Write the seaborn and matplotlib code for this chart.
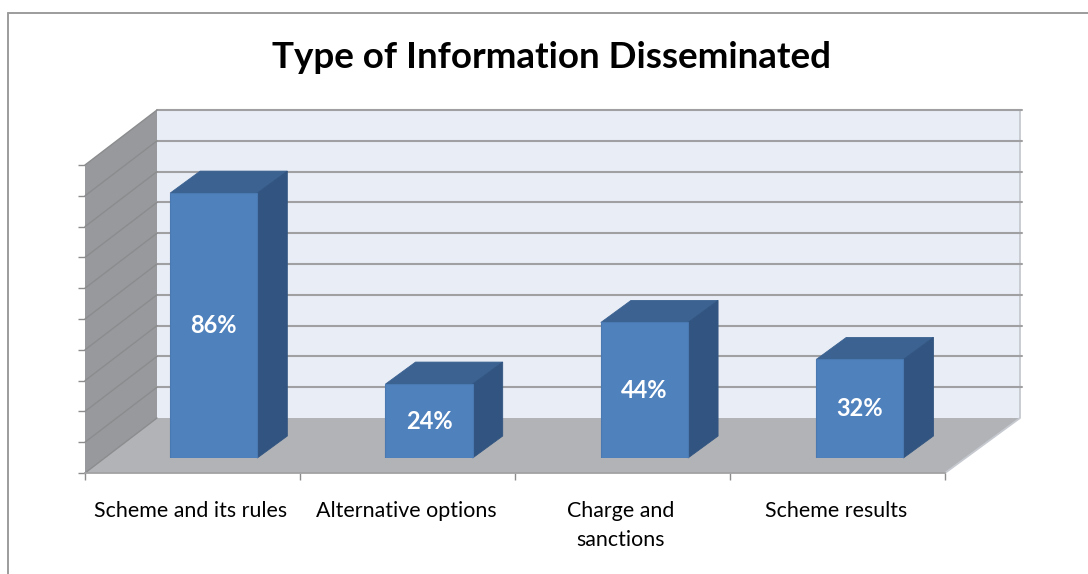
import numpy as np
import pandas as pd
import matplotlib
matplotlib.use("Agg")
import matplotlib.pyplot as plt
from matplotlib.lines import Line2D
import seaborn as sns

title = "Type of Information Disseminated"
categories = ["Scheme and its rules", "Alternative options", "Charge and\nsanctions", "Scheme results"]
values = [86, 24, 44, 32]
y_grid = list(range(0, 101, 10))

W, H = 1088, 574
sns.set_theme(style="white")
plt.rcParams["font.family"] = ["Lato", "DejaVu Sans"]

fig = plt.figure(figsize=(W / 100, H / 100), dpi=100, facecolor="white")


def axes_px(left, right, bottom, top):
    return fig.add_axes([left / W, 1 - bottom / H, (right - left) / W, (bottom - top) / H])


# frame of the chart area
frame = dict(color="#9c9c9c", lw=1.4, transform=fig.transFigure)
fig.add_artist(Line2D([8 / W, 8 / W], [0, 1 - 13 / H], **frame))
fig.add_artist(Line2D([8 / W, 1], [1 - 13 / H, 1 - 13 / H], **frame))

# front plane of the chart box
FL, FR, FB, FT = 85, 945, 473, 165
ax = axes_px(FL, FR, FB, FT)
ax.set_xlim(-0.5, 3.5)
ax.set_ylim(0, 100)
px_x = 4 / (FR - FL)
px_y = 100 / (FB - FT)
DXL, DXR, DY = 72 * px_x, 75 * px_x, 55 * px_y
x0, x1 = -0.5, 3.5

# walls and floor
ax.fill([x0, x0 + DXL, x1 + DXR, x1], [0, DY, DY, 0], color="#b1b3b6", lw=0, clip_on=False, zorder=1)
ax.fill([x0 + DXL, x1 + DXR, x1 + DXR, x0 + DXL], [DY, DY, 100 + DY, 100 + DY], color="#e9edf6", lw=0, clip_on=False, zorder=1)
ax.fill([x0, x0 + DXL, x0 + DXL, x0], [0, DY, 100 + DY, 100], color="#98999c", lw=0, clip_on=False, zorder=1)
ax.plot([x1, x1 + DXR, x1 + DXR], [0, DY, 100 + DY], color="#c6c9cf", lw=1.3, clip_on=False, zorder=2)
for v in y_grid:
    if v > 0:
        ax.plot([x0 + DXL, x1 + DXR + 1.5 * px_x], [v + DY, v + DY], color="#a0a0a2", lw=1.5, clip_on=False, zorder=2)
    ax.plot([x0, x0 + DXL], [v, v + DY], color="#8b8c8e", lw=1.0, clip_on=False, zorder=2)

# axes furniture
for name in ("top", "right", "left"):
    ax.spines[name].set_visible(False)
ax.spines["bottom"].set_color("#a2a2a4")
ax.spines["bottom"].set_linewidth(1.3)
ax.set_yticks(y_grid)
ax.set_yticklabels([])
ax.set_xticks(np.arange(-0.5, 4, 1))
ax.set_xticklabels([])
ax.set_xticks(np.arange(4) - 1.5 * px_x, labels=categories, minor=True)
ax.tick_params(axis="y", length=5, width=1.0, color="#8c8c8c", left=True)
ax.tick_params(axis="x", which="major", length=5, width=1.0, color="#8c8c8c", bottom=True)
ax.tick_params(axis="x", which="minor", length=0, pad=20, labelsize=15.4, labelcolor="black")
for lab in ax.get_xticklabels(minor=True):
    lab.set_linespacing(1.55)
    lab.set_verticalalignment("top")

# bars stand a little inside the box
SX, SY = 21, 15
bx = axes_px(FL + SX, FR + SX + 1.5, FB - SY, FT - SY)
bx.patch.set_alpha(0)
df = pd.DataFrame({"category": categories, "value": values})
sns.barplot(data=df, x="category", y="value", color="#4f81bd", saturation=1, width=87 * px_x,
            edgecolor="#4a78b0", linewidth=0.8, ax=bx, zorder=5)
bx.set_xlim(-0.5, 3.5)
bx.set_ylim(0, 100)
bx.axis("off")

BDX, BDY = 30 * px_x, 22 * px_y
for bar in bx.patches:
    l, r, t = bar.get_x(), bar.get_x() + bar.get_width(), bar.get_height()
    bx.fill([l, l + BDX, r + BDX, r], [t, t + BDY, t + BDY, t], facecolor="#3b6291", edgecolor="#3b6291",
            lw=0.6, clip_on=False, zorder=4)
    bx.fill([r, r + BDX, r + BDX, r], [0, BDY, t + BDY, t], facecolor="#315480", edgecolor="#315480",
            lw=0.6, clip_on=False, zorder=4)

bx.bar_label(bx.containers[0], fmt="%g%%", label_type="center", color="white",
             fontweight="bold", fontsize=17, zorder=6)

fig.text(552 / W, 1 - 57 / H, title, ha="center", va="center", fontsize=26.5, fontweight="bold", color="black")

fig.savefig("out.png", dpi=100, facecolor="white")
